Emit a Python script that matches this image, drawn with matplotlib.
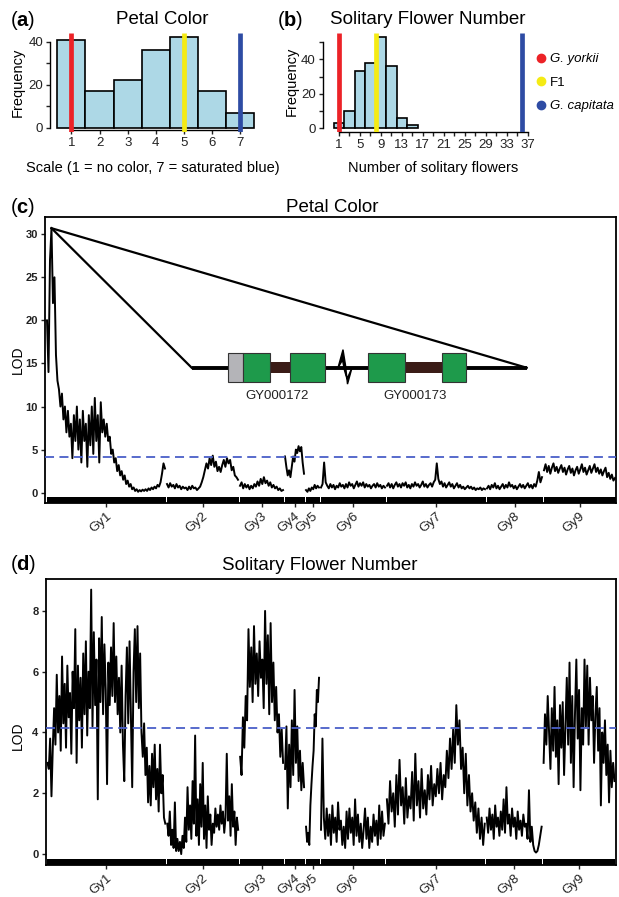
import numpy as np
import matplotlib.pyplot as plt
from matplotlib.lines import Line2D
from matplotlib.patches import Rectangle
from matplotlib.transforms import ScaledTranslation

plt.rcParams['font.family'] = ['Liberation Sans', 'DejaVu Sans']
plt.rcParams['mathtext.fontset'] = 'custom'
plt.rcParams['mathtext.rm'] = 'Liberation Sans'
plt.rcParams['mathtext.bf'] = 'Liberation Sans:bold'

# ---------------- data ----------------
parent_names = ['G. yorkii', 'F1', 'G. capitata']
parent_colors = ['#ec2227', '#f5eb14', '#2e4ca4']

# (a) petal colour histogram
petal_scores = [1, 2, 3, 4, 5, 6, 7]
petal_counts = [41, 17, 22, 36, 42, 17, 7]
petal_parent_values = [1, 5, 7]

# (b) solitary flower histogram (bins of width 2)
flower_bin_left = [0, 2, 4, 6, 8, 10, 12, 14]
flower_counts = [3, 10, 33, 38, 53, 36, 6, 2]
flower_parent_values = [1, 8, 36]

# linkage groups (position along the genome, arbitrary units)
chrom_names = ['Gy1', 'Gy2', 'Gy3', 'Gy4', 'Gy5', 'Gy6', 'Gy7', 'Gy8', 'Gy9']
chrom_start = [0, 120, 193, 238, 259, 274, 340, 440, 497]
chrom_end = [118, 191, 236, 257, 272, 338, 438, 495, 568]

# (c) petal colour LOD along each linkage group
petal_gy1 = [20, 14, 27, 30.7, 22, 25, 16, 13, 12, 10, 11.5, 8.5, 10, 7, 9.5, 6.5, 8, 4, 9, 6,
             10, 5, 8.5, 3.5, 9.5, 6, 8, 3, 9, 5.5, 10, 4.5, 11, 6, 9, 3.5, 10.5, 7, 8.5, 6.5,
             8, 6, 6.5, 4.5, 5, 3.5, 4, 2.5, 3.2, 2, 2.5, 1.5, 2, 1, 1.4, 0.7, 1, 0.4, 0.6, 0.2,
             0.4, 0.1, 0.3, 0.15, 0.35, 0.2, 0.4, 0.2, 0.5, 0.3, 0.6, 0.4, 0.7, 0.5, 0.9, 0.7, 1.2, 2.2, 3.4, 2.8]
petal_gy2 = [1.0, 0.6, 1.1, 0.7, 0.9, 0.5, 1.0, 0.6, 0.8, 0.4, 0.7, 0.5, 0.6, 0.3, 0.7, 0.4, 0.8, 0.5,
             0.6, 0.3, 0.5, 0.7, 1.2, 1.8, 2.6, 3.4, 2.8, 4.0, 3.2, 4.3, 3.0, 3.6, 2.5, 3.0, 2.4, 3.2,
             3.8, 3.0, 4.0, 3.4, 3.8, 2.6, 3.0, 2.0, 1.8, 1.5]
petal_gy3 = [0.8, 1.2, 0.5, 1.0, 0.6, 0.9, 0.4, 0.8, 0.5, 1.0, 0.7, 1.3, 0.8, 1.6, 1.0, 1.8, 1.1, 1.4,
             0.8, 1.2, 0.6, 0.9, 0.5, 0.7, 0.3, 0.5, 0.2, 0.3]
petal_gy4 = [4.2, 3.0, 2.0, 2.6, 1.8, 3.0, 4.2, 3.6, 5.0, 4.6, 5.4, 4.8, 5.3, 3.5, 2.2]
petal_gy5 = [0.3, 0.1, 0.5, 0.2, 0.6, 0.4, 0.9, 0.5, 0.8, 0.6]
petal_gy6 = [0.6, 1.0, 3.5, 1.2, 0.8, 0.5, 1.0, 0.6, 0.9, 0.4, 0.8, 0.6, 1.1, 0.7, 0.9, 0.5, 1.0, 0.6,
             1.2, 0.8, 1.0, 0.5, 0.9, 1.3, 0.7, 1.1, 0.8, 1.2, 0.6, 1.0, 0.7, 0.9, 0.5, 0.8, 1.0, 0.6,
             1.1, 0.7, 0.9, 0.5, 0.8, 0.6]
petal_gy7 = [0.8, 1.1, 0.6, 1.0, 0.5, 0.9, 1.2, 0.7, 1.0, 0.6, 1.1, 0.8, 1.2, 0.6, 0.9, 0.5, 1.0, 0.7,
             1.2, 0.8, 1.0, 0.6, 0.9, 1.3, 0.7, 1.0, 0.6, 0.9, 1.1, 0.7, 1.2, 1.5, 3.4, 1.6, 1.0, 1.3,
             0.7, 1.1, 0.6, 0.9, 1.2, 0.7, 1.0, 0.5, 0.8, 1.1, 0.6, 0.9, 0.5, 0.7, 0.4, 0.6, 0.8, 0.5,
             0.7, 0.4, 0.6, 0.3, 0.5, 0.4, 0.6, 0.3, 0.5, 0.4]
petal_gy8 = [0.5, 0.8, 0.4, 0.9, 0.6, 1.1, 0.5, 0.8, 0.4, 0.7, 1.0, 0.5, 0.9, 0.6, 1.2, 0.7, 0.9, 0.5,
             0.8, 0.4, 0.7, 1.0, 0.6, 0.9, 0.5, 0.8, 1.1, 0.6, 0.9, 0.5, 1.0, 0.7, 1.4, 2.4, 1.2, 1.8]
petal_gy9 = [2.6, 3.3, 2.4, 3.1, 2.2, 2.9, 3.4, 2.5, 3.0, 2.3, 2.8, 3.2, 2.4, 2.9, 2.1, 2.7, 3.1, 2.3,
             2.8, 2.0, 2.6, 3.0, 2.2, 2.7, 3.3, 2.4, 2.9, 2.1, 2.6, 3.1, 2.3, 2.8, 3.3, 2.4, 2.9, 2.2,
             2.7, 2.0, 2.5, 2.9, 1.8, 2.3, 1.6, 2.1, 1.4, 1.7]
petal_threshold = 4.18

# (d) solitary flower number LOD along each linkage group
flower_gy1 = [3.0, 2.8, 3.8, 1.9, 3.5, 4.8, 3.6, 5.9, 4.0, 5.2, 3.4, 6.5, 4.3, 5.6, 3.5, 6.2, 4.5, 5.3,
              3.3, 6.0, 4.8, 7.4, 3.0, 6.2, 4.4, 5.8, 3.5, 6.6, 4.6, 7.0, 3.9, 6.0, 4.8, 8.7, 4.2, 7.3,
              4.9, 6.4, 1.8, 7.1, 5.0, 7.8, 4.6, 6.9, 5.4, 2.3, 6.3, 4.9, 6.8, 5.2, 7.6, 5.0, 6.5, 4.6,
              5.8, 4.0, 6.2, 3.6, 2.4, 5.2, 6.8, 4.3, 7.0, 4.6, 2.2, 6.0, 7.4, 5.0, 7.5, 4.8, 6.6, 4.0,
              3.2, 4.3, 2.6, 3.5, 1.7, 2.9, 1.6, 3.3, 2.2, 3.6, 1.8, 2.8, 1.4, 3.6, 2.0, 2.6, 1.2, 1.0]
flower_gy2 = [1.0, 0.6, 1.4, 0.3, 0.8, 0.2, 1.7, 0.1, 0.5, 0.1, 0.4, 0.0, 0.6, 0.2, 1.2, 0.4, 2.2, 0.8,
              1.6, 0.5, 2.4, 1.0, 3.9, 0.6, 1.8, 0.3, 2.3, 0.9, 3.0, 0.5, 1.6, 0.2, 1.9, 0.8, 1.3, 0.3,
              1.0, 0.7, 1.5, 0.9, 1.3, 0.8, 1.6, 1.0, 1.4, 0.7, 1.2, 3.3, 1.1, 1.9, 0.6, 2.3, 0.9, 1.4,
              0.3, 1.2, 0.8]
flower_gy3 = [3.2, 2.6, 4.5, 3.5, 5.2, 4.4, 7.4, 5.5, 6.8, 5.0, 7.5, 5.6, 6.6, 5.2, 7.0, 5.8, 6.4, 4.8,
              8.0, 5.6, 7.2, 4.6, 7.6, 5.0, 6.3, 4.4, 5.5, 4.0, 4.6, 3.2, 4.1, 3.0]
flower_gy4 = [2.8, 4.2, 1.5, 3.6, 2.2, 4.4, 2.6, 5.4, 3.0, 4.2, 2.4, 3.4, 2.1, 3.0, 2.2]
flower_gy5 = [0.9, 0.4, 0.7, 0.3, 1.6, 2.3, 2.9, 3.4, 4.6, 4.2, 5.4, 5.0, 5.8]
flower_gy6 = [0.8, 3.8, 1.2, 0.5, 1.5, 0.6, 1.3, 0.3, 1.6, 0.7, 1.2, 0.4, 1.7, 0.8, 1.1, 0.3, 0.9, 0.2,
              1.4, 0.5, 1.5, 0.7, 1.2, 0.3, 1.8, 0.6, 1.3, 0.4, 1.0, 0.2, 0.8, 1.5, 0.5, 1.2, 0.2, 0.9,
              0.4, 1.3, 0.6, 1.1, 0.3, 1.6, 0.5, 1.4, 0.6, 1.0]
flower_gy7 = [1.8, 1.0, 2.4, 1.4, 2.0, 0.9, 2.6, 1.3, 3.1, 1.6, 2.2, 1.0, 2.5, 1.2, 1.9, 1.5, 2.7, 1.1,
              3.3, 1.6, 2.4, 1.2, 2.8, 1.5, 2.1, 1.3, 2.6, 1.8, 2.9, 1.6, 2.3, 1.9, 2.8, 2.0, 3.0, 1.8,
              2.6, 2.2, 3.4, 2.5, 3.8, 2.8, 4.1, 3.0, 4.9, 3.6, 4.4, 2.8, 3.5, 2.0, 3.3, 1.6, 2.6, 1.4,
              2.0, 1.1, 1.7, 0.7, 1.5, 0.5, 1.2, 0.3, 1.0]
flower_gy8 = [1.2, 0.7, 1.5, 0.8, 1.3, 0.5, 1.6, 0.9, 1.2, 0.6, 1.4, 0.8, 1.8, 0.7, 2.2, 1.0, 1.3, 0.6,
              1.5, 0.9, 1.2, 0.5, 1.4, 0.8, 1.1, 0.6, 1.3, 0.9, 1.0, 0.5, 2.1, 0.4, 0.9, 0.3, 0.1, 0.05,
              0.1, 0.3, 0.6, 0.9]
flower_gy9 = [3.0, 4.6, 3.6, 5.2, 4.0, 2.8, 4.8, 3.4, 5.5, 3.2, 4.4, 2.3, 4.9, 3.5, 5.0, 2.6, 4.2, 5.8,
              3.6, 6.3, 3.0, 5.2, 2.2, 4.6, 6.4, 3.8, 5.4, 2.1, 4.8, 3.6, 6.4, 4.2, 6.2, 3.6, 5.8, 4.4,
              5.2, 3.0, 4.6, 5.5, 3.4, 4.8, 1.6, 4.0, 3.0, 4.4, 2.6, 3.6, 1.7, 3.4, 2.2, 3.0, 2.4]
flower_threshold = 4.15

petal_lod = [petal_gy1, petal_gy2, petal_gy3, petal_gy4, petal_gy5, petal_gy6, petal_gy7, petal_gy8, petal_gy9]
flower_lod = [flower_gy1, flower_gy2, flower_gy3, flower_gy4, flower_gy5, flower_gy6, flower_gy7, flower_gy8, flower_gy9]

# ---------------- figure ----------------
W, H = 619, 897
fig = plt.figure(figsize=(W / 100, H / 100), dpi=100)


def add_ax(l, t, r, b):
    # axes from pixel box (left, top, right, bottom)
    return fig.add_axes([l / W, 1 - b / H, (r - l) / W, (b - t) / H])


def ftext(x, y, s, **kw):
    fig.text(x / W, 1 - y / H, s, **kw)


bar_color = '#add8e6'

# ---- (a) ----
ax_a = add_ax(50, 33.1, 261.4, 132.0)
ax_a.bar(petal_scores, petal_counts, width=1, color=bar_color, edgecolor='black', linewidth=1.2, zorder=2)
for v, c in zip(petal_parent_values, parent_colors):
    ax_a.vlines(v, -2, 44, color=c, linewidth=3.4, zorder=3)
ax_a.set_xlim(0.24, 7.75)
ax_a.set_ylim(-2, 44)

# ---- (b) ----
ax_b = add_ax(322.7, 33.4, 531.8, 131.75)
ax_b.bar(flower_bin_left, flower_counts, width=2, align='edge', color=bar_color, edgecolor='black',
         linewidth=1.2, zorder=2)
for v, c in zip(flower_parent_values, parent_colors):
    ax_b.vlines(v, -2, 55, color=c, linewidth=3.4, zorder=3)
ax_b.set_xlim(-2.1, 37.8)
ax_b.set_ylim(-2, 55)

for ax, ymax, xt in [(ax_a, 40, petal_scores), (ax_b, 50, list(range(1, 38, 2)))]:
    ax.spines['top'].set_visible(False)
    ax.spines['right'].set_visible(False)
    ax.spines['left'].set_bounds(0, ymax)
    ax.spines['bottom'].set_bounds(xt[0], xt[-1])
    ax.spines['left'].set_linewidth(1.0)
    ax.spines['bottom'].set_linewidth(1.0)
    yt = list(range(0, ymax + 1, 10))
    ax.set_yticks(yt)
    ax.set_yticklabels([str(t) if t % 20 == 0 else '' for t in yt])
    ax.set_xticks(xt)
    ax.tick_params(length=3, width=1.0, labelsize=9.5, pad=2, colors='#222222')
ax_a.spines['bottom'].set_position(('data', -1))
ax_a.set_xticklabels([str(t) for t in petal_scores])
ax_b.set_xticklabels([str(t) if (t - 1) % 4 == 0 else '' for t in range(1, 38, 2)])

handles = [Line2D([], [], marker='o', linestyle='', color=c, markersize=6) for c in parent_colors]
leg = fig.legend(handles, parent_names, loc='upper left', bbox_to_anchor=(533 / W, 1 - 53 / H),
                 frameon=False, fontsize=9.5, handletextpad=0.1, labelspacing=0.85, handlelength=1.2,
                 borderaxespad=0, borderpad=0)
leg.get_texts()[0].set_style('italic')
leg.get_texts()[2].set_style('italic')

ftext(10, 20, r'($\mathbf{a}$)', fontsize=14.5, va='center', ha='left')
ftext(162, 20, 'Petal Color', fontsize=13.5, va='center', ha='center')
ftext(277, 20, r'($\mathbf{b}$)', fontsize=14.5, va='center', ha='left')
ftext(428, 20, 'Solitary Flower Number', fontsize=13.5, va='center', ha='center')
ftext(18, 82, 'Frequency', fontsize=10.5, rotation=90, va='center', ha='center')
ftext(292, 81, 'Frequency', fontsize=10.5, rotation=90, va='center', ha='center')
ftext(153, 168, 'Scale (1 = no color, 7 = saturated blue)', fontsize=10.5, va='center', ha='center')
ftext(433, 168, 'Number of solitary flowers', fontsize=10.5, va='center', ha='center')


# ---- (c) and (d) LOD profiles ----
def lod_panel(ax, lod, threshold, ylim, yticks):
    for s, e, vals in zip(chrom_start, chrom_end, lod):
        xs = np.linspace(s, e, len(vals))
        ax.plot(xs, vals, color='black', linewidth=1.4, zorder=2)
    ax.axhline(threshold, color='#4a5fc8', linewidth=1.3, dashes=(5, 3), zorder=3)
    for s, e in zip(chrom_start, chrom_end):
        ax.add_patch(Rectangle((s - 0.5, 0), e - s + 1, 0.022, transform=ax.get_xaxis_transform(),
                               color='black', linewidth=0, zorder=4))
    ax.set_xlim(-2, 569)
    ax.set_ylim(*ylim)
    ax.set_yticks(yticks)
    ax.set_yticklabels([str(t) for t in yticks], fontweight='bold', fontsize=8)
    mids = [(s + e) / 2 for s, e in zip(chrom_start, chrom_end)]
    ax.set_xticks(mids)
    ax.set_xticklabels(chrom_names, rotation=40, ha='right', rotation_mode='anchor', fontsize=9.5,
                       color='#444444')
    for lbl in ax.get_xticklabels():
        lbl.set_transform(lbl.get_transform() + ScaledTranslation(0.07, -0.03, fig.dpi_scale_trans))
    ax.tick_params(axis='both', length=3, width=1.0, pad=2, colors='#222222')
    for sp in ax.spines.values():
        sp.set_linewidth(1.3)


ax_c = add_ax(45, 217, 616, 503)
lod_panel(ax_c, petal_lod, petal_threshold, (-1.2, 32.0), [0, 5, 10, 15, 20, 25, 30])

ax_d = add_ax(45.5, 579.3, 615.5, 865)
lod_panel(ax_d, flower_lod, flower_threshold, (-0.36, 9.04), [0, 2, 4, 6, 8])

# gene model inset on (c), hanging from the Gy1 peak
peak_i = int(np.argmax(petal_gy1))
peak_x = np.linspace(chrom_start[0], chrom_end[0], len(petal_gy1))[peak_i]
peak_y = petal_gy1[peak_i]
gy = 14.5
ax_c.plot([peak_x, 144.7], [peak_y, gy], color='black', linewidth=1.6, zorder=5)
ax_c.plot([peak_x, 479.7], [peak_y, gy], color='black', linewidth=1.6, zorder=5)
ax_c.plot([144.7, 479.7], [gy, gy], color='black', linewidth=2.8, solid_capstyle='butt', zorder=5)
for s, e in [(223, 243), (358, 394.7)]:
    ax_c.add_patch(Rectangle((s, 13.9), e - s, 1.3, facecolor='#3b1c17', edgecolor='none', zorder=6))
for s, e, col in [(181.3, 195.7, '#b4b4b8'), (195.7, 223, '#1e9a4b'), (243, 278, '#1e9a4b'),
                  (321.3, 358, '#1e9a4b'), (394.7, 418.7, '#1e9a4b')]:
    ax_c.add_patch(Rectangle((s, 12.82), e - s, 3.44, facecolor=col, edgecolor='#333333',
                             linewidth=0.8, zorder=7))
ax_c.fill([291, 296, 298.5, 300.5, 305, 300, 297.5, 295.5], [14.5, 16.6, 14.8, 12.6, 14.5, 13.2, 14.2, 15.4],
          color='black', zorder=7)
ax_c.text(229.7, 11.2, 'GY000172', fontsize=9.5, ha='center', va='center', color='#222222', zorder=7)
ax_c.text(368, 11.2, 'GY000173', fontsize=9.5, ha='center', va='center', color='#222222', zorder=7)

ftext(10, 207, r'($\mathbf{c}$)', fontsize=14.5, va='center', ha='left')
ftext(332, 207, 'Petal Color', fontsize=13.5, va='center', ha='center')
ftext(18, 360, 'LOD', fontsize=10, rotation=90, va='center', ha='center')
ftext(10, 565, r'($\mathbf{d}$)', fontsize=14.5, va='center', ha='left')
ftext(320, 565, 'Solitary Flower Number', fontsize=13.5, va='center', ha='center')
ftext(18, 736, 'LOD', fontsize=10, rotation=90, va='center', ha='center')

fig.savefig('out.png', dpi=100)
